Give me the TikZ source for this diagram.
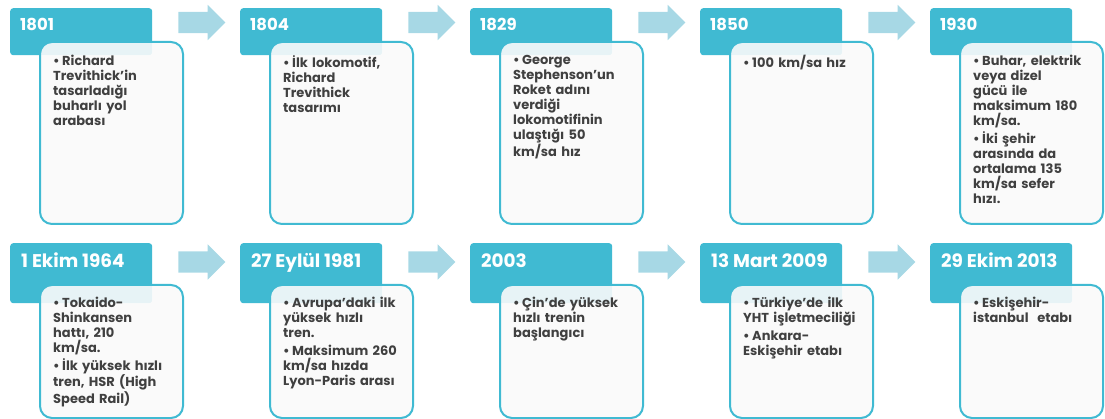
\documentclass[tikz,border=0pt]{standalone}
\usepackage{fontspec}
\setmainfont{Poppins}
\usepackage{xcolor}
\usepackage{tikz}
\usetikzlibrary{positioning}
\usetikzlibrary{shapes.arrows}
\definecolor{hdrcyan}{RGB}{64,186,210}
\definecolor{arrblue}{RGB}{167,216,229}
\definecolor{cardgray}{RGB}{250,250,250}
\definecolor{txtgray}{RGB}{64,64,64}
\newcommand{\itm}[1]{\noindent\hangindent=9pt\hangafter=1\makebox[9pt][l]{\textbullet}#1\par}
\tikzset{
  hdr/.style = {rectangle, fill=hdrcyan, rounded corners=3pt, minimum width=142pt, anchor=north west, inner sep=0},
  card/.style = {rectangle, draw=hdrcyan, line width=2pt, fill=cardgray, fill opacity=.9, rounded corners=12pt, minimum width=143pt, anchor=north west, inner sep=0},
  yr/.style = {text=white, anchor=base west, inner sep=0, font=\bfseries\fontsize{16.5}{16.5}\selectfont},
  yrbig/.style = {yr, font=\bfseries\fontsize{18.4}{18.4}\selectfont},
  note/.style = {text=txtgray, text width=125pt, align=left, anchor=north west, inner sep=0, font=\bfseries\fontsize{13}{15}\selectfont\setlength{\parskip}{3pt}},
  nxt/.style = {single arrow, fill=arrblue, minimum height=47pt, inner xsep=0pt, inner ysep=10.5pt, single arrow head extend=7pt, single arrow tip angle=90}
}

\begin{document}
\begin{tikzpicture}[x=1pt, y=-1pt]
\useasboundingbox (0,0) rectangle (1105,419);

% top row
\node [hdr, minimum height=47pt] (h1) at (10,8) {};
\node [card, minimum height=182pt] (c1) at (39,41) {};
\node [yr] (y1) at (20,31) {1801};
\node [note] (t1) at (53,55) {\itm{Richard\\Trevithick’in\\tasarladığı\\buharlı yol\\arabası}};

\node [hdr, minimum height=47pt] (h2) at (240,8) {};
\node [card, minimum height=182pt] (c2) at (269,41) {};
\node [yr] (y2) at (250,31) {1804};
\node [note] (t2) at (283,55) {\itm{İlk lokomotif,\\Richard\\Trevithick\\tasarımı}};

\node [hdr, minimum height=47pt] (h3) at (470,8) {};
\node [card, minimum height=182pt] (c3) at (499,41) {};
\node [yr] (y3) at (480,31) {1829};
\node [note] (t3) at (513,55) {\itm{George\\Stephenson’un\\Roket adını\\verdiği\\lokomotifinin\\ulaştığı 50\\km/sa hız}};

\node [hdr, minimum height=47pt] (h4) at (700,8) {};
\node [card, minimum height=182pt] (c4) at (729,41) {};
\node [yr] (y4) at (710,31) {1850};
\node [note] (t4) at (743,55) {\itm{100 km/sa hız}};

\node [hdr, minimum height=47pt] (h5) at (930,8) {};
\node [card, minimum height=182pt] (c5) at (959,41) {};
\node [yr] (y5) at (940,31) {1930};
\node [note] (t5) at (973,55) {\itm{Buhar, elektrik\\veya dizel\\gücü ile\\maksimum 180\\km/sa.}\itm{İki şehir\\arasında da\\ortalama 135\\km/sa sefer\\hızı.}};

\node [nxt] (a1) at (196.5,22.5) {};
\node [nxt] (a2) at (426.5,22.5) {};
\node [nxt] (a3) at (656.5,22.5) {};
\node [nxt] (a4) at (886.5,22.5) {};

% bottom row
\node [hdr, minimum height=60pt] (h6) at (10,243) {};
\node [card, minimum height=133pt] (c6) at (39,284) {};
\node [yrbig] (y6) at (21,268) {1 Ekim 1964};
\node [note] (t6) at (53,297) {\itm{Tokaido-\\Shinkansen\\hattı, 210\\km/sa.}\itm{İlk yüksek hızlı\\tren, HSR (High\\Speed Rail)}};

\node [hdr, minimum height=60pt] (h7) at (240,243) {};
\node [card, minimum height=133pt] (c7) at (269,284) {};
\node [yrbig] (y7) at (251,268) {27 Eylül 1981};
\node [note] (t7) at (283,297) {\itm{Avrupa’daki ilk\\yüksek hızlı\\tren.}\itm{Maksimum 260\\km/sa hızda\\Lyon-Paris arası}};

\node [hdr, minimum height=60pt] (h8) at (470,243) {};
\node [card, minimum height=133pt] (c8) at (499,284) {};
\node [yrbig] (y8) at (481,268) {2003};
\node [note] (t8) at (513,297) {\itm{Çin’de yüksek\\hızlı trenin\\başlangıcı}};

\node [hdr, minimum height=60pt] (h9) at (700,243) {};
\node [card, minimum height=133pt] (c9) at (729,284) {};
\node [yrbig] (y9) at (711,268) {13 Mart 2009};
\node [note] (t9) at (743,297) {\itm{Türkiye’de ilk\\YHT işletmeciliği}\itm{Ankara-\\Eskişehir etabı}};

\node [hdr, minimum height=60pt] (h10) at (930,243) {};
\node [card, minimum height=133pt] (c10) at (959,284) {};
\node [yrbig] (y10) at (941,268) {29 Ekim 2013};
\node [note] (t10) at (973,297) {\itm{Eskişehir-\\istanbul\ \ etabı}};

\node [nxt] (a5) at (196.5,262) {};
\node [nxt] (a6) at (426.5,262) {};
\node [nxt] (a7) at (656.5,262) {};
\node [nxt] (a8) at (886.5,262) {};
\end{tikzpicture}
\end{document}
